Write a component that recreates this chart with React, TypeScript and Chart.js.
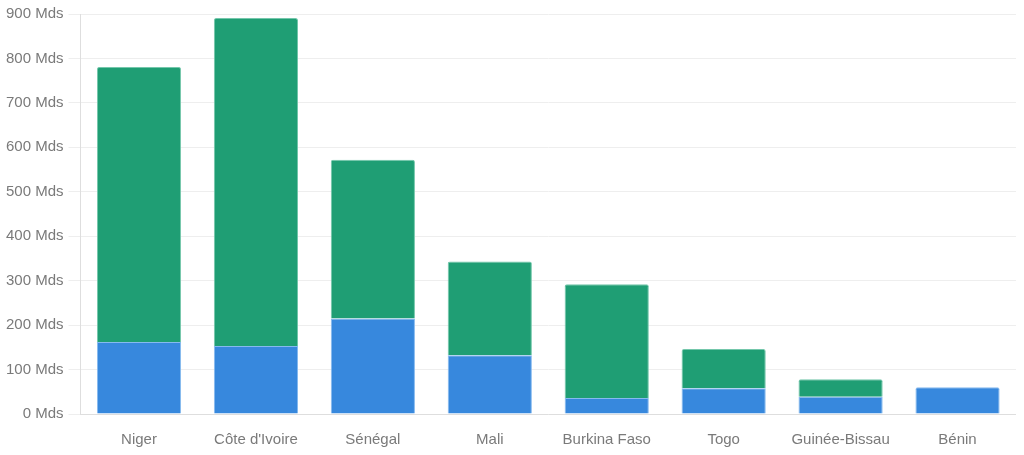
import { useEffect, useRef } from 'react';
import Chart from 'chart.js/auto';

const countries = [
  'Niger',
  "Côte d'Ivoire",
  'Sénégal',
  'Mali',
  'Burkina Faso',
  'Togo',
  'Guinée-Bissau',
  'Bénin'
];

// lower segment (blue)
const blueValues = [162, 153, 215, 132, 36, 58, 39, 60];
// upper segment (green)
const greenValues = [619, 738, 357, 211, 256, 88, 39, 0];

const yMax = 900;
const yStep = 100;

const tickFont = { family: 'Liberation Sans, Arial, sans-serif', size: 15 };

export default function App() {
  const canvasRef = useRef<HTMLCanvasElement>(null);
  const chartRef = useRef<Chart | null>(null);

  useEffect(() => {
    if (!canvasRef.current) return;
    const ctx = canvasRef.current.getContext('2d');
    if (!ctx) return;

    if (chartRef.current) {
      chartRef.current.destroy();
    }

    chartRef.current = new Chart(ctx, {
      type: 'bar',
      data: {
        labels: countries,
        datasets: [
          {
            label: 'Bleu',
            data: blueValues,
            backgroundColor: '#3788dd',
            borderColor: '#86baef',
            borderWidth: 1,
            borderRadius: 2,
            borderSkipped: 'bottom'
          },
          {
            label: 'Vert',
            data: greenValues,
            backgroundColor: '#1f9e74',
            borderColor: '#74c7ab',
            borderWidth: 1,
            borderRadius: 2,
            borderSkipped: 'bottom'
          }
        ]
      },
      options: {
        animation: false,
        responsive: true,
        maintainAspectRatio: false,
        layout: { padding: { top: 5 } },
        plugins: {
          legend: { display: false },
          tooltip: { enabled: false }
        },
        scales: {
          x: {
            stacked: true,
            grid: { display: false },
            border: { display: true, color: '#dedede' },
            ticks: {
              color: '#7a7a7a',
              font: tickFont,
              padding: 9
            }
          },
          y: {
            stacked: true,
            min: 0,
            max: yMax,
            grid: { color: '#eeeeee', tickLength: 12 },
            border: { display: true, color: '#dedede' },
            ticks: {
              stepSize: yStep,
              color: '#7a7a7a',
              font: tickFont,
              padding: 5,
              callback: (v) => `${v} Mds`
            }
          }
        }
      }
    });

    return () => {
      if (chartRef.current) {
        chartRef.current.destroy();
        chartRef.current = null;
      }
    };
  }, []);

  return (
    <div style={{ position: 'fixed', left: 1, top: 0, width: 1015, height: 458 }}>
      <canvas ref={canvasRef} />
    </div>
  );
}
